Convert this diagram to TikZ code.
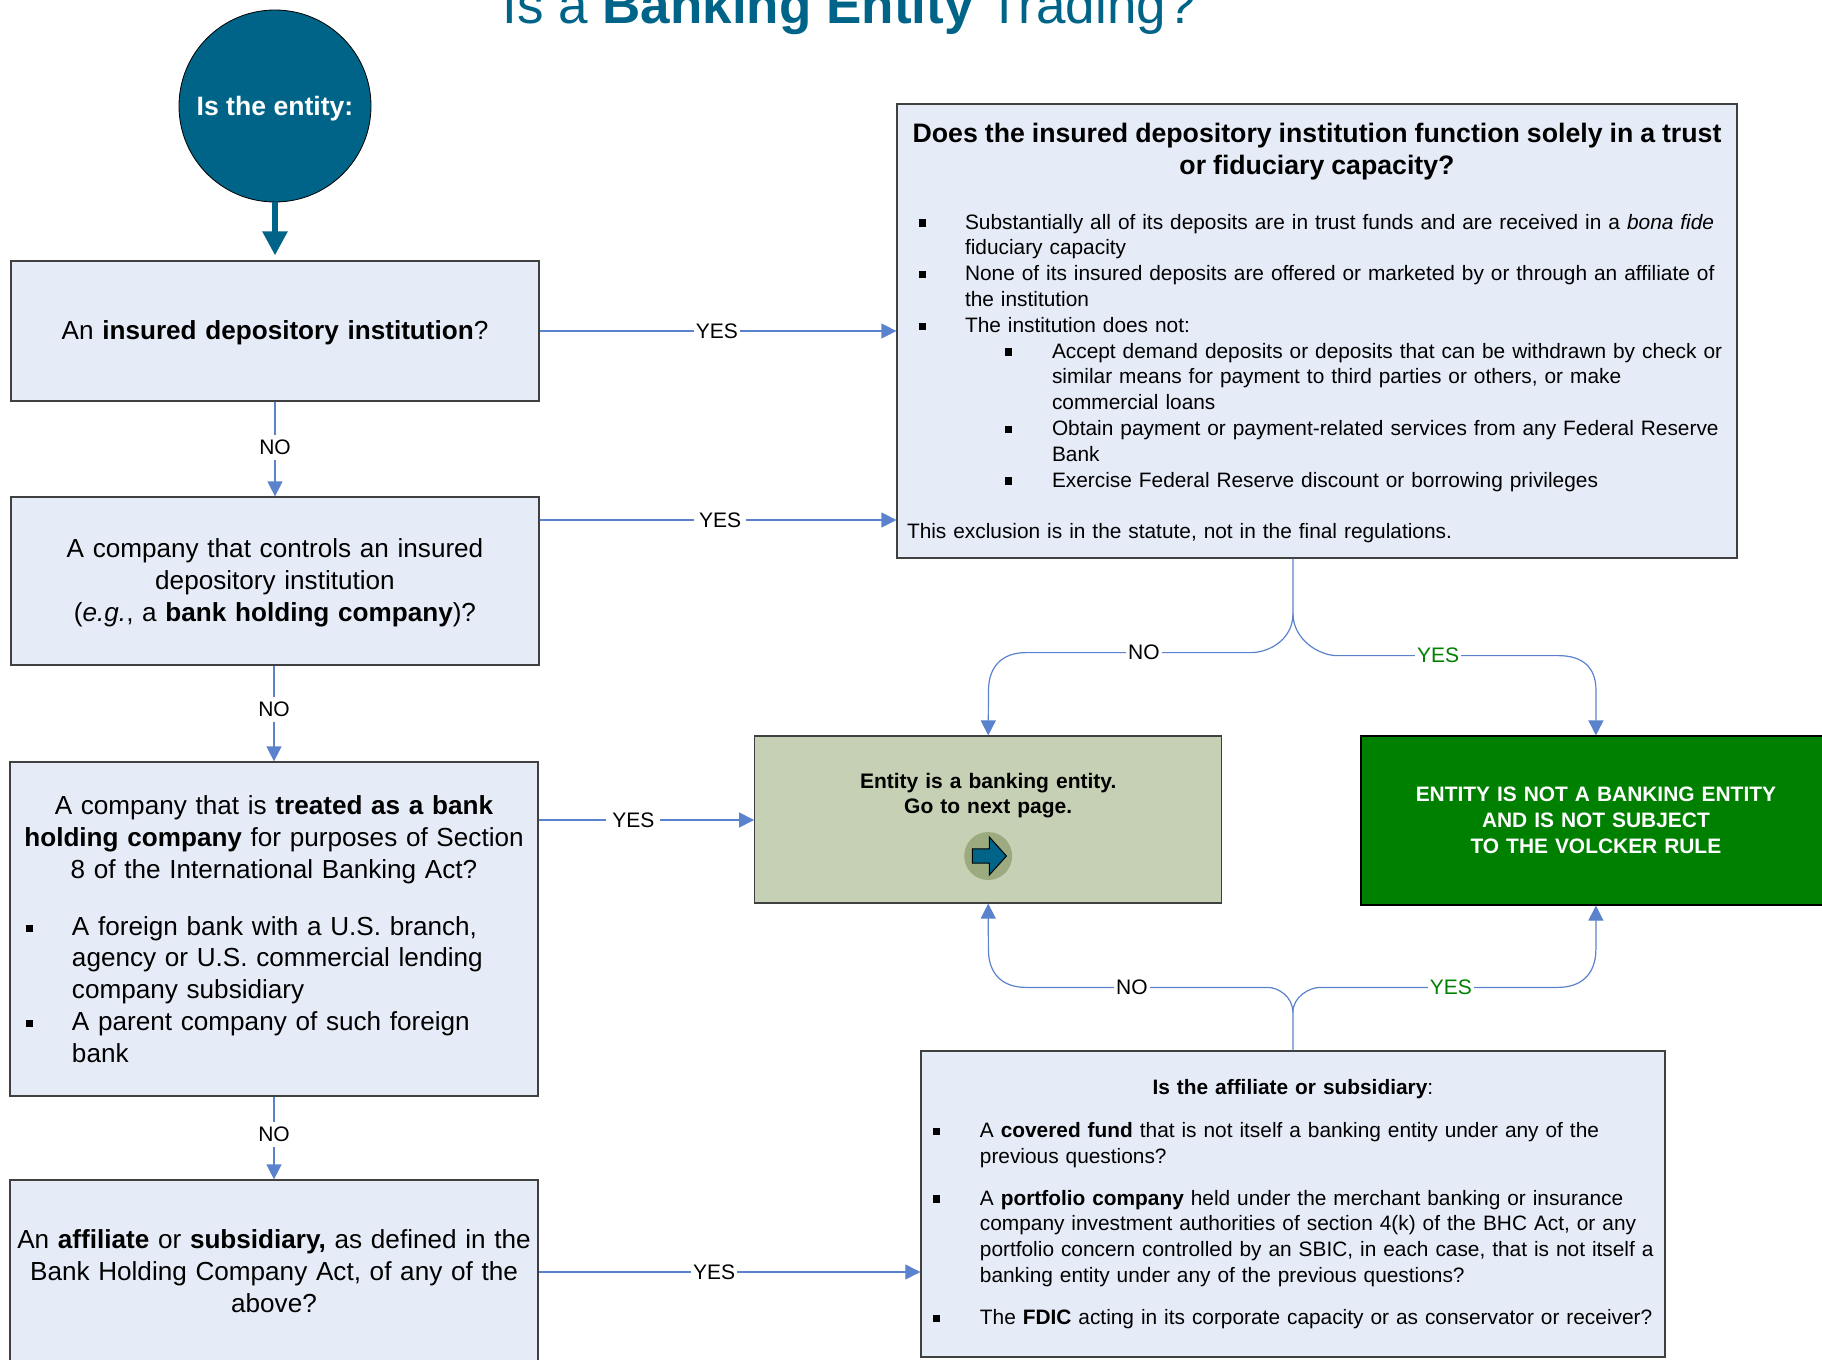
\documentclass[tikz,border=0pt]{standalone}
\usepackage{fontspec}
\setmainfont{Liberation Sans}
\usetikzlibrary{arrows.meta,shapes.arrows}

\definecolor{boxblue}{HTML}{E6ECF7}
\definecolor{teal}{HTML}{006488}
\definecolor{linkblue}{HTML}{5B82CC}
\definecolor{olive}{HTML}{C6D0B4}
\definecolor{darkolive}{HTML}{9CAA7F}
\definecolor{deepgreen}{HTML}{008000}

\newcommand{\sqitem}[3]{\par{\leftskip=\dimexpr#1+#2\relax\rightskip=0pt plus 1fil\noindent\llap{\rlap{\rule[.12em]{3.6pt}{3.6pt}}\hspace*{#2}}#3\par}}
\newcommand{\bigtext}{\fontsize{13.06}{15.9}\selectfont}
\newcommand{\smalltext}{\fontsize{10.43}{12.9}\selectfont}

\begin{document}
\begin{tikzpicture}[x=1pt,y=1pt,->,>={Triangle[length=7.5pt,width=7.5pt]},
  qbox/.style={draw=black!75,line width=.6pt,fill=boxblue,inner sep=0pt,text width=#1,align=center},
  qbox/.default=264pt,
  lbl/.style={fill=white,inner xsep=1pt,inner ysep=2.5pt,font=\fontsize{10.5}{12}\selectfont},
  link/.style={draw=linkblue,line width=.6pt},
  every edge/.append style={link}]
\clip (0,0) rectangle (911,-680);

\node[anchor=base,teal,font=\fontsize{26.5}{30}\selectfont] (title) at (424.5,-12) {Is a \textbf{Banking Entity} Trading?};

\node[qbox,minimum height=70pt,font=\bigtext] (insured) at (137.5,-165.5) {\rule{0pt}{11.7pt}An \textbf{insured depository institution}?};
\node[circle,draw=black,fill=teal,minimum size=96pt,inner sep=0pt,text=white,font=\fontsize{13.3}{15}\selectfont\bfseries] (entity) [above of=insured,node distance=112.5pt] {\rule{0pt}{11.9pt}Is the entity:};
\node[qbox,minimum height=84pt,font=\bigtext] (ctrl) [below of=insured,node distance=125pt] {\rule{0pt}{11.2pt}A company that controls an insured\\depository institution\\(\textit{e.g.}, a \textbf{bank holding company})?};
\node[qbox,minimum height=167pt,font=\bigtext,align=left] (bhc) [below of=ctrl,node distance=174pt,xshift=-.5pt] {%
  {\centering A company that is \textbf{treated as a bank}\\\textbf{holding company} for purposes of Section\\8 of the International Banking Act?\par}
  \vspace{12.6pt}
  \sqitem{8pt}{23pt}{A foreign bank with a U.S. branch,\\agency or U.S. commercial lending\\company subsidiary}
  \sqitem{8pt}{23pt}{A parent company of such foreign\\bank}\vspace{1pt}};
\node[qbox,minimum height=91pt,font=\bigtext] (affil) [below of=bhc,node distance=171pt] {An \textbf{affiliate} or \textbf{subsidiary,} as defined in the\\Bank Holding Company Act, of any of the\\above?};

\node[qbox=420pt,minimum height=227pt,font=\smalltext,align=left] (trust) [right of=insured,node distance=521pt] {%
  {\centering\fontsize{13.35}{15.9}\selectfont\bfseries \rule{0pt}{11.8pt}Does the insured depository institution function solely in a trust\\or fiduciary capacity?\par}
  \vspace{14.4pt}
  \sqitem{11pt}{23pt}{Substantially all of its deposits are in trust funds and are received in a \textit{bona fide}\\fiduciary capacity}
  \sqitem{11pt}{23pt}{None of its insured deposits are offered or marketed by or through an affiliate of\\the institution}
  \sqitem{11pt}{23pt}{The institution does not:}
  \sqitem{54pt}{23.5pt}{Accept demand deposits or deposits that can be withdrawn by check or\\similar means for payment to third parties or others, or make\\commercial loans}
  \sqitem{54pt}{23.5pt}{Obtain payment or payment-related services from any Federal Reserve\\Bank}
  \sqitem{54pt}{23.5pt}{Exercise Federal Reserve discount or borrowing privileges}
  \vspace{12.9pt}
  \noindent\hspace*{5pt}This exclusion is in the statute, not in the final regulations.};

\node[qbox=233.5pt,minimum height=83.5pt,fill=olive,font=\fontsize{10.5}{12.5}\selectfont\bfseries] (bank) [below of=trust,node distance=244.25pt,xshift=-164.4pt] {Entity is a banking entity.\\Go to next page.\\[14pt]\mbox{}};
\node[circle,fill=darkolive,minimum size=24pt,inner sep=0pt] (nextdot) at ([yshift=-18.25pt]bank.center) {};
\node[single arrow,draw=black,fill=teal,line width=.5pt,inner xsep=0pt,inner ysep=3.35pt,minimum height=17pt,single arrow head extend=5.9pt,single arrow tip angle=96] (nextarrow) at ([xshift=-1pt]nextdot.center) {};
\node[qbox=235pt,minimum height=84.5pt,draw=black,fill=deepgreen,text=white,font=\fontsize{10.46}{12.9}\selectfont\bfseries] (notbank) [right of=bank,node distance=303.85pt,yshift=-.5pt] {ENTITY IS NOT A BANKING ENTITY\\AND IS NOT SUBJECT\\TO THE VOLCKER RULE};

\node[qbox=372pt,minimum height=153pt,font=\smalltext,align=left] (cover) [below of=bank,node distance=192.25pt,xshift=152.35pt] {%
  {\centering\textbf{Is the affiliate or subsidiary}:\par}
  \vspace{8.6pt}
  \sqitem{6pt}{23.5pt}{A \textbf{covered fund} that is not itself a banking entity under any of the\\previous questions?}
  \vspace{8pt}
  \sqitem{6pt}{23.5pt}{A \textbf{portfolio company} held under the merchant banking or insurance\\company investment authorities of section 4(k) of the BHC Act, or any\\portfolio concern controlled by an SBIC, in each case, that is not itself a\\banking entity under any of the previous questions?}
  \vspace{8pt}
  \sqitem{6pt}{23.5pt}{The \textbf{FDIC} acting in its corporate capacity or as conservator or receiver?}};

\draw[teal,line width=2.8pt,-{Triangle[length=12pt,width=12pt]},shorten >=2.5pt] (entity) -- (insured);

\path (insured) edge node[lbl,pos=.497] {YES} (trust)
      (insured) edge node[lbl,pos=.48] {NO} (ctrl)
      (bhc.north |- ctrl.south) edge node[lbl,pos=.46] {NO} (bhc)
      (bhc) edge node[lbl,pos=.46] {NO} (affil)
      ([yshift=30.5pt]ctrl.east) edge node[lbl,pos=.506,inner xsep=2.5pt] {YES} ([yshift=30.5pt]ctrl.east -| trust.west)
      ([yshift=54.5pt]bhc.east) edge node[lbl,pos=.44,inner xsep=3pt] {YES} ([yshift=54.5pt]bhc.east -| bank.west)
      ([yshift=-.5pt]affil.east) edge node[lbl,pos=.46] {YES} ([yshift=-.5pt]affil.east -| cover.west);

\coordinate (split) at ([xshift=-12pt,yshift=-27.5pt]trust.south);
\draw[link] (trust.south -| split) -- (split) .. controls +(0,-13) and +(9,0) .. ++(-21,-19.5) -- node[lbl,pos=.476] {NO} ++(-112.5,0) .. controls +(-12,0) and +(0,12) .. ++(-18.75,-19) -- (bank.north);
\draw[link] (split) .. controls +(0,-13) and +(-9,0) .. ++(22,-21) -- node[lbl,pos=.457,text=deepgreen] {YES} ++(110.5,0) .. controls +(12,0) and +(0,12) .. ++(19,-17.5) -- (notbank.north);
\draw[link] (cover.north) -- ++(0,19) .. controls +(0,8) and +(5,0) .. ++(-12.5,12.5) -- node[lbl,pos=.562] {NO} ++(-121,0) .. controls +(-12,0) and +(0,-12) .. ++(-18.75,19) -- (bank.south);
\draw[link] ([yshift=19pt]cover.north) .. controls +(0,8) and +(-5,0) .. ++(13.5,12.5) -- node[lbl,pos=.55,text=deepgreen] {YES} ++(119,0) .. controls +(12,0) and +(0,-12) .. ++(19,19) -- (notbank.south);

\end{tikzpicture}
\end{document}
